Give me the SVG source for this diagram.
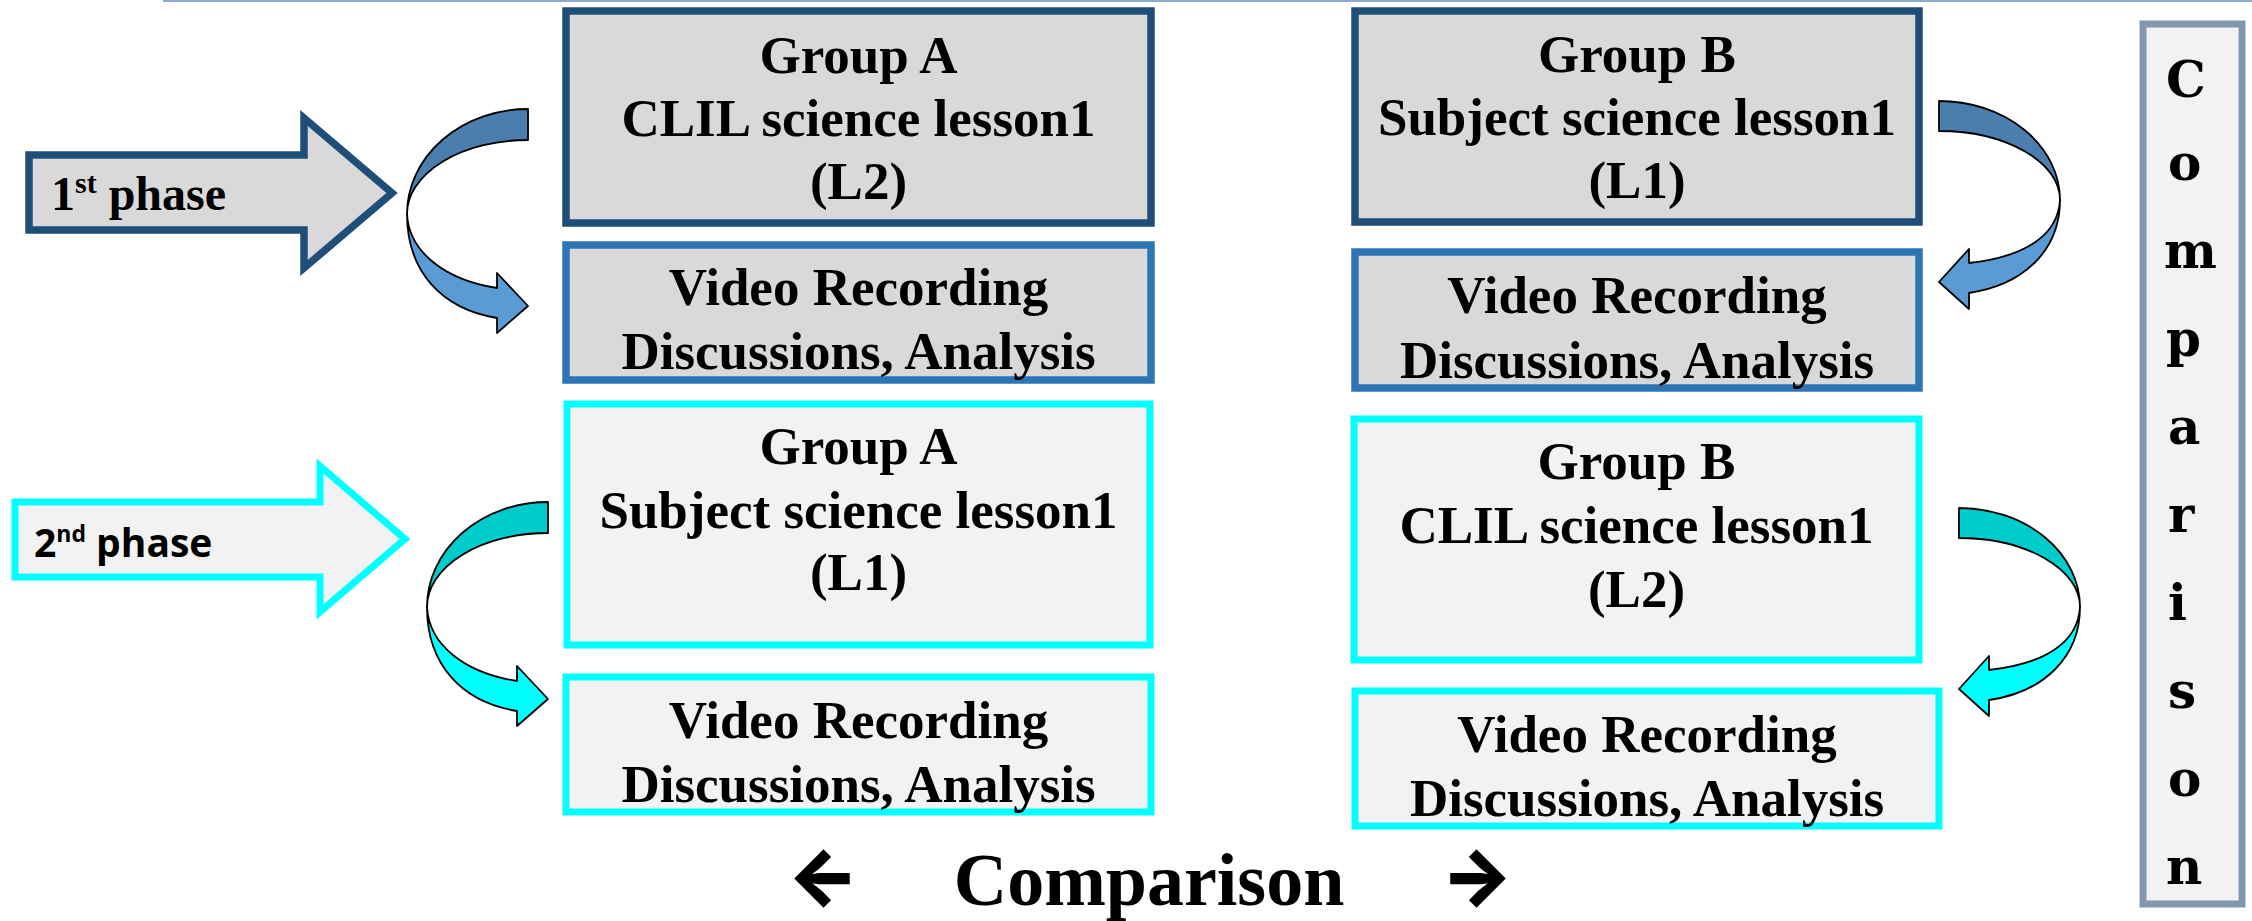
<svg xmlns="http://www.w3.org/2000/svg" width="2252" height="921" viewBox="0 0 2252 921">
<style>
.bt{font-family:"Liberation Serif","Times New Roman",serif;font-weight:bold;font-size:53px;fill:#000;text-anchor:middle}
.p1{fill:#d9d9d9}
.p2{fill:#f2f2f2}
.dk{stroke:#1f4e79;stroke-width:7.5}
.md{stroke:#2e75b6;stroke-width:7.5}
.cy{stroke:#00ffff;stroke-width:7}
.ca{stroke:#000;stroke-width:1.8;stroke-linejoin:round}
.vl{font-family:"DejaVu Serif",serif;font-weight:bold;font-size:50px;fill:#000}
.ar{font-family:Inter,"DejaVu Sans",sans-serif;font-weight:900;font-size:76px;fill:#000;text-anchor:middle}
</style>
<line x1="163" y1="1" x2="2252" y2="1" stroke="#8eaad0" stroke-width="2"/>
<g id="phase1">
<polygon class="p1 dk" points="29,155 304,155 304,118 392,193 304,268 304,230 29,230"/>
<text x="51" y="210" font-family="Liberation Serif,serif" font-weight="bold" font-size="48">1<tspan font-size="30" dy="-17">st</tspan><tspan dy="17"> phase</tspan></text>
</g>
<g id="phase2">
<polygon class="p2 cy" points="15,502 320,502 320,466 405,539 320,612 320,577 15,577" stroke-width="8"/>
<text x="34" y="557" font-family="Open Sans,sans-serif" font-weight="bold" font-size="39">2<tspan font-size="23" dy="-15">nd</tspan><tspan dy="15"> phase</tspan></text>
</g>
<g id="a1">
<rect class="p1 dk" x="566" y="11" width="585" height="212"/>
<text class="bt" x="858.5" y="73">Group A</text>
<text class="bt" x="858.5" y="136">CLIL science lesson1</text>
<text class="bt" x="858.5" y="199">(L2)</text>
</g>
<g id="a1v">
<rect class="p1 md" x="566" y="245" width="585" height="135"/>
<text class="bt" x="858.5" y="305">Video Recording</text>
<text class="bt" x="858.5" y="369">Discussions, Analysis</text>
</g>
<g id="a2">
<rect class="p2 cy" x="567" y="404" width="583" height="241"/>
<text class="bt" x="858.5" y="464">Group A</text>
<text class="bt" x="858.5" y="528">Subject science lesson1</text>
<text class="bt" x="858.5" y="590">(L1)</text>
</g>
<g id="a2v">
<rect class="p2 cy" x="566" y="677" width="585" height="135"/>
<text class="bt" x="858.5" y="738">Video Recording</text>
<text class="bt" x="858.5" y="802">Discussions, Analysis</text>
</g>
<g id="b1">
<rect class="p1 dk" x="1355" y="11" width="564" height="211"/>
<text class="bt" x="1637" y="72">Group B</text>
<text class="bt" x="1637" y="135">Subject science lesson1</text>
<text class="bt" x="1637" y="198">(L1)</text>
</g>
<g id="b1v">
<rect class="p1 md" x="1355" y="252" width="564" height="136"/>
<text class="bt" x="1637" y="313">Video Recording</text>
<text class="bt" x="1637" y="378">Discussions, Analysis</text>
</g>
<g id="b2">
<rect class="p2 cy" x="1354" y="419" width="565" height="241"/>
<text class="bt" x="1636.5" y="479">Group B</text>
<text class="bt" x="1636.5" y="543">CLIL science lesson1</text>
<text class="bt" x="1636.5" y="607">(L2)</text>
</g>
<g id="b2v">
<rect class="p2 cy" x="1355" y="691" width="584" height="135"/>
<text class="bt" x="1647" y="752">Video Recording</text>
<text class="bt" x="1647" y="816">Discussions, Analysis</text>
</g>
<g id="comparison-v">
<rect x="2143" y="24" width="99" height="880" fill="#f2f2f2" stroke="#8497b0" stroke-width="7"/>
<text class="vl" x="2166" y="97">C</text>
<text class="vl" x="2168" y="180">o</text>
<text class="vl" x="2164" y="268">m</text>
<text class="vl" x="2166" y="356">p</text>
<text class="vl" x="2168" y="444">a</text>
<text class="vl" x="2168" y="532">r</text>
<text class="vl" x="2168" y="620">i</text>
<text class="vl" x="2168" y="708">s</text>
<text class="vl" x="2168" y="796">o</text>
<text class="vl" x="2166" y="884">n</text>
</g>
<g id="comparison-h">
<text class="ar" x="823" y="903">←</text>
<text x="1149" y="905" font-family="Liberation Serif,serif" font-weight="bold" font-size="74" text-anchor="middle">Comparison</text>
<text class="ar" x="1477" y="903">→</text>
</g>
<g id="connectors">
<g id="curveA1">
<path class="ca" fill="#4a7ead" d="M528,109 A121,105 0 0 0 407,214 A121,74 0 0 1 528,140 Z"/>
<path class="ca" fill="#5b9bd5" d="M407,214 C409,252 445,280 497,288 L497,273 L528,306 L497,333 L497,318 C442,309 407,272 407,214 Z"/>
</g>
<g id="curveA2" transform="translate(20,393)">
<path class="ca" fill="#00cccc" d="M528,109 A121,105 0 0 0 407,214 A121,74 0 0 1 528,140 Z"/>
<path class="ca" fill="#00ffff" d="M407,214 C409,252 445,280 497,288 L497,273 L528,306 L497,333 L497,318 C442,309 407,272 407,214 Z"/>
</g>
<g id="curveB1">
<path class="ca" fill="#4a7ead" d="M1939,101 A121,99 0 0 1 2060,200 A121,69 0 0 0 1939,131 Z"/>
<path class="ca" fill="#5b9bd5" d="M2060,200 C2058,236 2024,257 1969,263 L1969,249 L1939,282 L1969,309 L1969,293 C2024,285 2060,250 2060,200 Z"/>
</g>
<g id="curveB2" transform="translate(20,407)">
<path class="ca" fill="#00cccc" d="M1939,101 A121,99 0 0 1 2060,200 A121,69 0 0 0 1939,131 Z"/>
<path class="ca" fill="#00ffff" d="M2060,200 C2058,236 2024,257 1969,263 L1969,249 L1939,282 L1969,309 L1969,293 C2024,285 2060,250 2060,200 Z"/>
</g>
</g>
</svg>
